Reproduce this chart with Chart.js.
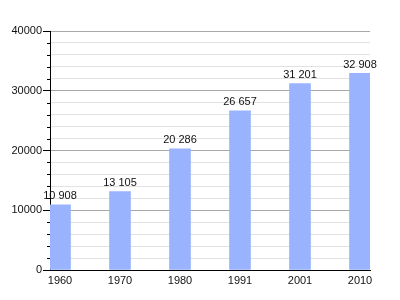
<!DOCTYPE html>
<html><head><meta charset="utf-8">
<script src="https://cdn.jsdelivr.net/npm/chart.js@4"></script>
<style>html,body{margin:0;padding:0;background:#fff}canvas{display:block}</style>
</head><body>
<canvas id="c" width="400" height="300"></canvas>
<script>
const years = ['1960','1970','1980','1991','2001','2010'];
const population = [10908, 13105, 20286, 26657, 31201, 32908];
const yTicks = [0, 10000, 20000, 30000, 40000];

const FONT = '"Liberation Sans", Arial, sans-serif';
function fmt(v){ return String(v).replace(/\B(?=(\d{3})+(?!\d))/g, ' '); }

const extras = {
  id: 'extras',
  afterDraw(chart) {
    const ctx = chart.ctx, y = chart.scales.y, area = chart.chartArea;
    ctx.save();
    ctx.strokeStyle = '#000'; ctx.lineWidth = 1;
    for (let v = 0; v <= 40000; v += 2000) {
      if (v % 10000 === 0) continue;
      const py = Math.round(y.getPixelForValue(v)) + 0.5;
      ctx.beginPath(); ctx.moveTo(area.left - 3, py); ctx.lineTo(area.left, py); ctx.stroke();
    }
    ctx.fillStyle = '#111';
    ctx.font = '11px ' + FONT;
    ctx.textAlign = 'center'; ctx.textBaseline = 'bottom';
    chart.getDatasetMeta(0).data.forEach((bar, i) => {
      ctx.fillText(fmt(population[i]), bar.x, bar.y - 3);
    });
    ctx.restore();
  }
};

new Chart(document.getElementById('c'), {
  type: 'bar',
  data: {
    datasets: [{
      data: population.map((v, i) => ({x: i, y: v})),
      backgroundColor: '#99b3ff',
      borderWidth: 0,
      barThickness: 21
    }]
  },
  options: {
    responsive: false,
    animation: false,
    events: [],
    layout: { padding: { left: 0, right: 30, top: 31, bottom: 0 } },
    plugins: { legend: { display: false }, tooltip: { enabled: false } },
    scales: {
      x: {
        type: 'linear',
        offset: false,
        min: -1/6, max: 5 + 1/6,
        afterBuildTicks: s => { s.ticks = years.map((_, i) => ({value: i})); },
        afterFit: s => { s.height = 30; },
        grid: { display: false, drawTicks: false },
        border: { display: true, color: '#000', width: 1 },
        ticks: {
          autoSkip: false, maxRotation: 0, padding: 4,
          color: '#111', font: { family: FONT, size: 11 },
          callback: v => years[v]
        }
      },
      y: {
        min: 0, max: 40000,
        afterBuildTicks: s => {
          const t = [];
          for (let v = 0; v <= 40000; v += 2000) t.push({value: v});
          s.ticks = t;
        },
        afterFit: s => { s.width = 50; },
        grid: {
          color: c => (c.tick && c.tick.value % 10000 === 0) ? '#a8a8a8' : '#e2e2e2',
          tickColor: c => (c.tick && c.tick.value % 10000 === 0) ? '#000' : 'rgba(0,0,0,0)',
          tickLength: 7
        },
        border: { display: true, color: '#000', width: 1 },
        ticks: {
          autoSkip: false, padding: 1,
          color: '#111', font: { family: FONT, size: 11 },
          callback: v => yTicks.includes(v) ? String(v) : ''
        }
      }
    }
  },
  plugins: [extras]
});
</script>
</body></html>
